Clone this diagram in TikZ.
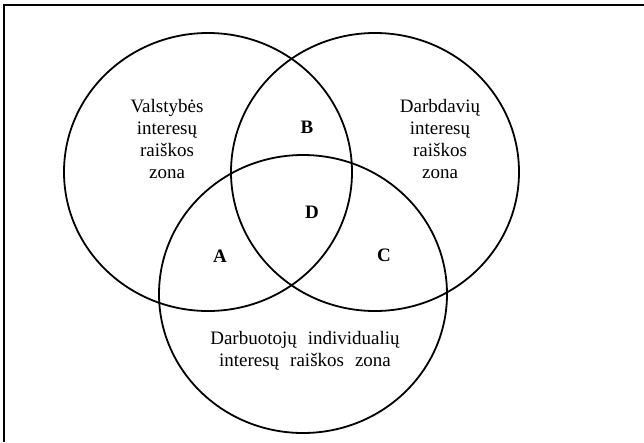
\documentclass[tikz,border=0pt]{standalone}
\usepackage{fontspec}
\setmainfont{Liberation Serif}
\usetikzlibrary{shapes.geometric}

\begin{document}
\begin{tikzpicture}[x=1pt, y=-1pt,
        zone/.style={draw, ellipse, line width=1.8pt, minimum width=288pt, minimum height=278pt, inner sep=0pt},
        zonetext/.style={align=center, font=\fontsize{19}{22}\selectfont},
        letter/.style={font=\fontsize{19}{22}\selectfont\bfseries}
    ]
        \useasboundingbox (0,0) rectangle (644,442);

        % frame (only top and left edges are visible)
        \coordinate (tl) at (4,5);
        \coordinate (tr) at (644,5);
        \coordinate (bl) at (4,442);
        \draw[line width=1.3pt] (tr) -- (tl) -- (bl);

        % the three zones
        \node[zone] (valstybe) at (208,172) {};
        \node[zone] (darbdaviai) at (375,172) {};
        \node[zone] (darbuotojai) at (303,294) {};

        % zone texts
        \node[zonetext] (valsttxt) at (167,139) {Valstybės\\interesų\\raiškos\\zona};
        \node[zonetext] (darbdtxt) at (440,139) {Darbdavių\\interesų\\raiškos\\zona};
        \node[zonetext] (darbuottxt) at (305,351) {Darbuotojų\hspace{11pt}individualių\\interesų\hspace{11pt}raiškos\hspace{11pt}zona};

        % overlaps
        \node[letter] (b) at (307,127) {B};
        \node[letter] (d) at (312,212) {D};
        \node[letter] (a) at (220,256) {A};
        \node[letter] (c) at (384,255) {C};
    \end{tikzpicture}
\end{document}
